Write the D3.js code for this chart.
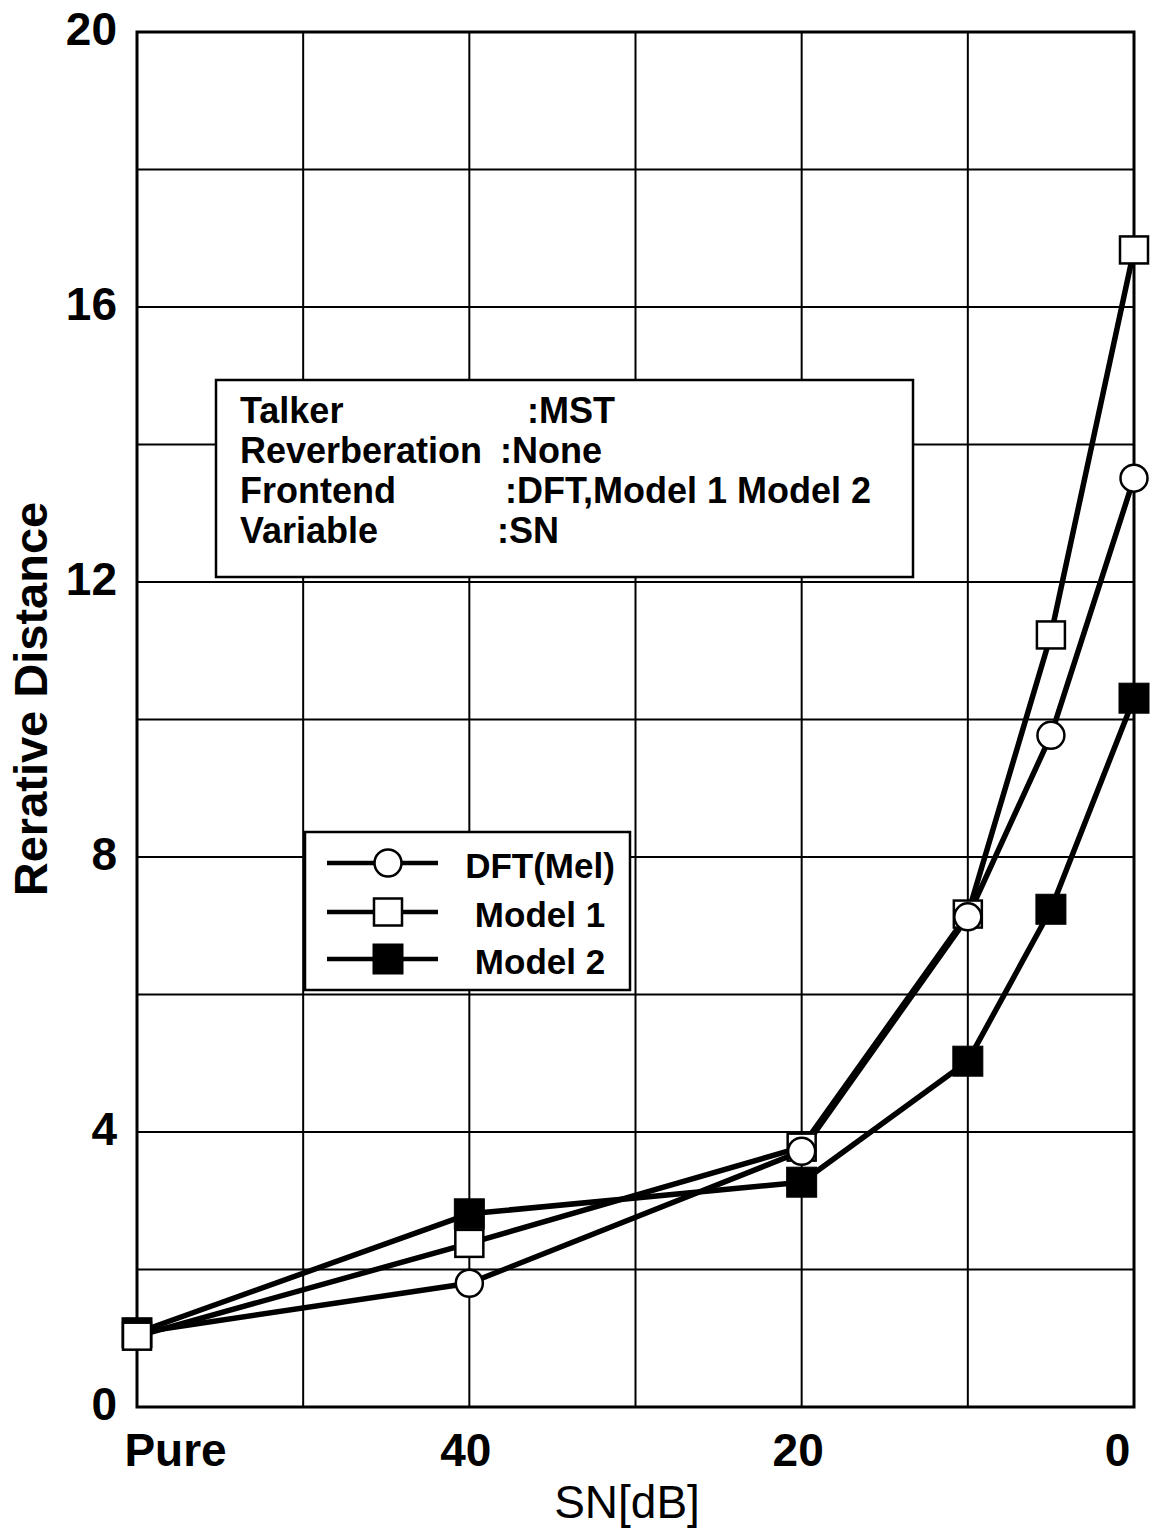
<!DOCTYPE html>
<html>
<head>
<meta charset="utf-8">
<script src="https://cdn.jsdelivr.net/npm/d3@7"></script>
<style>
  html, body { margin: 0; padding: 0; background: #fff; }
  svg { display: block; }
  text { font-family: "Liberation Sans", Arial, Helvetica, sans-serif; fill: #000; }
</style>
</head>
<body>
<svg id="chart" width="1158" height="1530"></svg>
<script>
// ---- data ----
const snLabels = ["Pure", "40", "20", "10", "5", "0"];
const snValues = [60, 40, 20, 10, 5, 0];           // "Pure" placed at 60 dB position
const dftMel   = [1.08, 1.80, 3.72, 7.13, 9.77, 13.51];
const model1   = [1.03, 2.38, 3.78, 7.17, 11.23, 16.83];
const model2   = [1.08, 2.81, 3.27, 5.03, 7.24, 10.31];
const seriesNames = ["DFT(Mel)", "Model 1", "Model 2"];
const xTickValues = [60, 40, 20, 0];
const xTickText = {60: "Pure", 40: "40", 20: "20", 0: "0"};
const yTickValues = [0, 4, 8, 12, 16, 20];
const infoKeys = ["Talker", "Reverberation", "Frontend", "Variable"];
const infoVals = [":MST", ":None", ":DFT,Model 1 Model 2", ":SN"];

// ---- layout ----
const svg = d3.select("#chart");
const L = 137, R = 1134, T = 32, B = 1407;
const x = d3.scaleLinear().domain([60, 0]).range([L, R]);
const y = d3.scaleLinear().domain([0, 20]).range([B, T]);

// grid
const grid = svg.append("g");
grid.selectAll("line.v").data(d3.range(0, 61, 10)).join("line")
  .attr("x1", d => x(d)).attr("x2", d => x(d)).attr("y1", T).attr("y2", B)
  .attr("stroke", "#000").attr("stroke-width", 2);
grid.selectAll("line.h").data(d3.range(0, 21, 2)).join("line")
  .attr("x1", L).attr("x2", R).attr("y1", d => y(d)).attr("y2", d => y(d))
  .attr("stroke", "#000").attr("stroke-width", 2);
// frame
svg.append("path")
  .attr("d", `M${L},${T}H${R}V${B}H${L}Z`)
  .attr("fill", "none").attr("stroke", "#000").attr("stroke-width", 3);

// axes labels
const yAxis = svg.append("g").attr("transform", `translate(${L},0)`)
  .call(d3.axisLeft(y).tickValues(yTickValues).tickSize(0).tickPadding(20).tickFormat(d3.format("d")));
yAxis.select(".domain").remove();
yAxis.selectAll("text")
  .attr("font-size", 46).attr("font-weight", "bold")
  .attr("font-family", "'Liberation Sans', Arial, sans-serif")
  .attr("dy", "0.28em");

const xOffsets = {60: 38, 40: -4, 20: -4, 0: -17};
const xAxis = svg.append("g").attr("transform", `translate(0,${B})`)
  .call(d3.axisBottom(x).tickValues(xTickValues).tickSize(0).tickPadding(26).tickFormat(d => xTickText[d]));
xAxis.select(".domain").remove();
xAxis.selectAll("text")
  .attr("font-size", 46).attr("font-weight", "bold")
  .attr("font-family", "'Liberation Sans', Arial, sans-serif")
  .attr("dx", d => xOffsets[d]);

svg.append("text").attr("x", 627).attr("y", 1518).attr("text-anchor", "middle")
  .attr("font-size", 46).text("SN[dB]");
svg.append("text").attr("transform", "translate(47,699) rotate(-90)")
  .attr("text-anchor", "middle").attr("font-size", 47).attr("font-weight", "bold")
  .text("Rerative Distance");

// info box
svg.append("rect").attr("x", 216).attr("y", 380).attr("width", 697).attr("height", 197)
  .attr("fill", "#fff").attr("stroke", "#000").attr("stroke-width", 2.5);
const valX = [527, 500, 505, 497];
infoKeys.forEach((k, i) => {
  svg.append("text").attr("x", 240).attr("y", 423 + i * 40)
    .attr("font-size", 36).attr("font-weight", "bold").text(k);
  svg.append("text").attr("x", valX[i]).attr("y", 423 + i * 40)
    .attr("font-size", 36).attr("font-weight", "bold").text(infoVals[i]);
});

// series
const series = [dftMel, model1, model2];
const shapes = ["circle", "open", "filled"];
const line = d3.line().x((d, i) => x(snValues[i])).y(d => y(d));
const lineG = svg.append("g");
series.forEach(s => {
  lineG.append("path").attr("d", line(s)).attr("fill", "none")
    .attr("stroke", "#000").attr("stroke-width", 5.5).attr("stroke-linejoin", "round");
});

function drawMarker(g, shape, cx, cy) {
  if (shape === "circle") {
    g.append("circle").attr("cx", cx).attr("cy", cy).attr("r", 13.5)
      .attr("fill", "#fff").attr("stroke", "#000").attr("stroke-width", 2.5);
  } else if (shape === "open") {
    g.append("rect").attr("x", cx - 14).attr("y", cy - 13.5).attr("width", 28).attr("height", 27)
      .attr("fill", "#fff").attr("stroke", "#000").attr("stroke-width", 2.5);
  } else {
    g.append("rect").attr("x", cx - 15).attr("y", cy - 15).attr("width", 30).attr("height", 30)
      .attr("fill", "#000").attr("stroke", "#000").attr("stroke-width", 1);
  }
}

// marker stacking: Model 1, DFT, Model 2; Model 1's "Pure" point on top
const markers = [];
[1, 0, 2].forEach(si => {
  series[si].forEach((v, i) => {
    markers.push({si, i, v, z: (si === 1 && i === 0) ? 99 : markers.length});
  });
});
markers.sort((a, b) => a.z - b.z);
const mG = svg.append("g");
markers.forEach(m => drawMarker(mG, shapes[m.si], x(snValues[m.i]), y(m.v)));

// legend
svg.append("rect").attr("x", 305).attr("y", 832).attr("width", 325).attr("height", 158)
  .attr("fill", "#fff").attr("stroke", "#000").attr("stroke-width", 2.5);
const legY = [863, 912, 959];
seriesNames.forEach((n, i) => {
  svg.append("line").attr("x1", 327).attr("x2", 438).attr("y1", legY[i]).attr("y2", legY[i])
    .attr("stroke", "#000").attr("stroke-width", 4.5);
  drawMarker(svg, shapes[i], 388, legY[i]);
  svg.append("text").attr("x", 540).attr("y", legY[i] + 15).attr("text-anchor", "middle")
    .attr("font-size", 35).attr("font-weight", "bold").text(n);
});
</script>
</body>
</html>
